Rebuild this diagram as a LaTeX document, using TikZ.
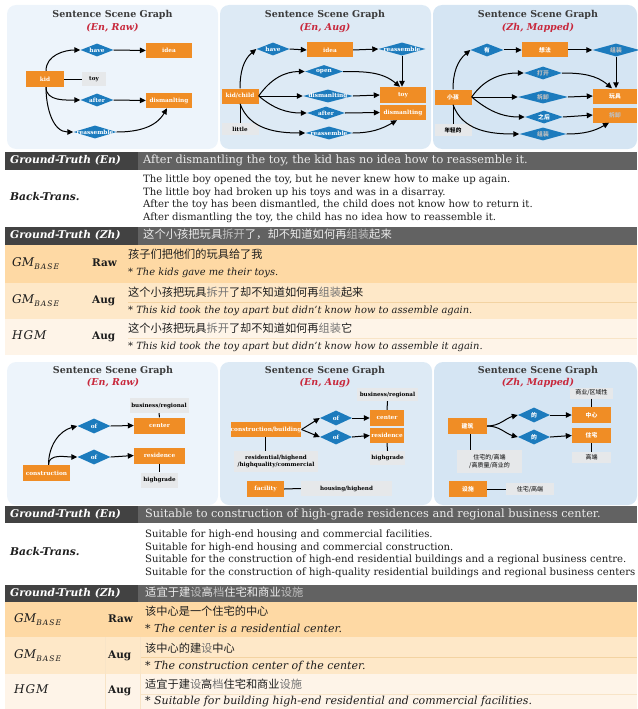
\documentclass[tikz,border=0pt]{standalone}
\usepackage{fontspec}
\setmainfont{DejaVu Serif}
\newfontfamily\cjk{Noto Sans CJK SC}
\usetikzlibrary{shapes.geometric,arrows.meta}
\definecolor{orng}{HTML}{F08D25}
\definecolor{dblue}{HTML}{1C7BBD}
\definecolor{gbx}{HTML}{E6E8EA}
\definecolor{pA}{HTML}{EDF4FB}
\definecolor{pB}{HTML}{DDEAF5}
\definecolor{pC}{HTML}{D5E5F3}
\definecolor{ttl}{HTML}{3C3C3C}
\definecolor{subred}{HTML}{C8283C}
\definecolor{bandL}{HTML}{424242}
\definecolor{bandR}{HTML}{626262}
\definecolor{rowA}{HTML}{FED9A4}
\definecolor{rowB}{HTML}{FEE8C8}
\definecolor{rowC}{HTML}{FEF4E8}
\definecolor{sepl}{HTML}{F3D3A2}
\definecolor{bodyt}{HTML}{1E1E1E}
\definecolor{lighttxt}{HTML}{ECECEC}
\newcommand\mkzw[1]{\makebox[0pt]{#1}}
\newcommand\gmbase{\textit{GM}\raisebox{-2.4pt}{\fontsize{7.6}{8}\selectfont\itshape B\kern1pt A\kern1pt S\kern1pt E}}
\newcommand\hgmlbl{\textit{H\kern1pt G\kern1pt M}}
\newcommand\ltc[1]{\textcolor{black!55}{#1}}
\newcommand\ltw[1]{\textcolor{white!75!black}{#1}}
\begin{document}
\begin{tikzpicture}[x=1pt,y=-1pt,
  obox/.style={fill=orng,text=white,font=\fontsize{5.8}{7}\selectfont\bfseries,inner sep=0pt,minimum height=15pt},
  gbox/.style={fill=gbx,text=black,font=\fontsize{5.6}{7}\selectfont\bfseries,inner sep=0pt,minimum height=14pt},
  dia/.style={diamond,fill=dblue,text=white,font=\fontsize{5.8}{7}\selectfont\bfseries,inner sep=0pt,minimum height=13pt},
  arr/.style={-{Triangle[length=6pt,width=5.5pt]},line width=1pt,black},
  lnk/.style={line width=1pt,black},
  panel/.style={rounded corners=9pt},
  ttlstyle/.style={font=\fontsize{9.5}{11}\selectfont\bfseries,text=ttl,inner sep=0pt},
  substyle/.style={font=\fontsize{9.5}{11}\selectfont\bfseries\itshape,text=subred,inner sep=0pt},
  tx/.style={anchor=west,inner sep=0pt,text height=0.72em,text depth=0.2em},
  lbl/.style={tx,font=\fontsize{10.7}{13}\selectfont\bfseries\itshape},
  bandtxt/.style={tx,text=lighttxt,font=\fontsize{11.3}{13}\selectfont},
  bt/.style={tx,text=bodyt,font=\fontsize{10.1}{12}\selectfont},
  zh/.style={tx,text=bodyt,font=\cjk\fontsize{11.2}{12}\selectfont},
  zhband/.style={tx,text=lighttxt,font=\cjk\fontsize{11.3}{13}\selectfont},
  en/.style={tx,text=bodyt,font=\fontsize{9.9}{11}\selectfont\itshape},
  enb/.style={tx,text=bodyt,font=\fontsize{11}{12}\selectfont\itshape},
  rk/.style={tx,text=bodyt,font=\fontsize{10.5}{12}\selectfont\bfseries},
  ml/.style={tx,text=bodyt,font=\fontsize{12}{13}\selectfont},
]
\useasboundingbox (0,0) rectangle (637,709);

%% ================= TOP PANELS =================
\fill[pA,panel] (7,5) rectangle (218,149);
\fill[pB,panel] (220,5) rectangle (431,149);
\fill[pC,panel] (433,5) rectangle (637,149);

\node[ttlstyle] (t1) at (112.5,15) {Sentence Scene Graph};
\node[substyle] (s1) at (112.5,27.5) {(En, Raw)};
\node[ttlstyle] (t2) at (325,15) {Sentence Scene Graph};
\node[substyle] (s2) at (325,27.5) {(En, Aug)};
\node[ttlstyle] (t3) at (538,15) {Sentence Scene Graph};
\node[substyle] (s3) at (538,27.5) {(Zh, Mapped)};

% panel 1
\node[dia,minimum width=33pt] (p1have) at (97,50) {\mkzw{have}};
\node[obox,minimum width=46pt] (p1idea) at (169,50.5) {idea};
\node[obox,minimum width=38pt,minimum height=16pt] (p1kid) at (45,79) {kid};
\node[gbox,minimum width=24pt] (p1toy) at (94,79) {toy};
\node[dia,minimum width=33pt] (p1after) at (97,100) {\mkzw{after}};
\node[obox,minimum width=46pt] (p1dis) at (169,100.5) {dismanlting};
\node[dia,minimum width=43pt] (p1re) at (95,132) {\mkzw{reassemble}};
\draw[arr] ([xshift=1pt]p1kid.north) to[out=90,in=180] (p1have.west);
\draw[lnk] (p1kid.east) -- (p1toy.west);
\draw[arr] ([xshift=1pt]p1kid.south) to[out=-90,in=180] (p1after.west);
\draw[arr] ([xshift=1pt]p1kid.south) to[out=-90,in=180] (p1re.west);
\draw[arr] (p1have.east) -- (p1idea.west);
\draw[arr] (p1after.east) -- (p1dis.west);
\draw[arr] (p1re.east) to[out=0,in=-120] ([xshift=-2pt]p1dis.south);

% panel 2
\node[dia,minimum width=33pt] (p2have) at (273,49) {\mkzw{have}};
\node[obox,minimum width=46pt] (p2idea) at (330,50) {idea};
\node[dia,minimum width=47pt] (p2re1) at (402,49) {\mkzw{reassemble}};
\node[dia,minimum width=38pt] (p2open) at (324,71.5) {\mkzw{open}};
\node[obox,minimum width=37pt] (p2kid) at (240,96) {kid/child};
\node[dia,minimum width=50pt] (p2dis) at (328,96) {\mkzw{dismanlting}};
\node[obox,minimum width=46pt,minimum height=16pt] (p2toy) at (403,95) {toy};
\node[dia,minimum width=38pt] (p2after) at (326,113) {\mkzw{after}};
\node[obox,minimum width=46pt] (p2disb) at (403,112.5) {dismanlting};
\node[gbox,minimum width=37pt,minimum height=12pt] (p2little) at (240,129) {little};
\node[dia,minimum width=47pt] (p2re2) at (329,133) {\mkzw{reassemble}};
\draw[arr] (p2kid.north) to[out=90,in=-140] (p2have.west);
\draw[arr] (p2have.east) -- (p2idea.west);
\draw[arr] (p2idea.east) -- (p2re1.west);
\draw[arr] (p2re1.south) -- (p2re1.south |- p2toy.north);
\draw[arr] (p2kid.east) to[out=55,in=180] (p2open.west);
\draw[arr] (p2open.east) to[out=0,in=140] ([xshift=-3pt]p2toy.north);
\draw[arr] (p2kid.east) -- (p2dis.west);
\draw[arr] (p2dis.east) -- (p2toy.west);
\draw[arr] (p2kid.east) to[out=-40,in=180] (p2after.west);
\draw[arr] (p2after.east) -- (p2disb.west);
\draw[arr] (p2kid.south) to[out=-70,in=180] (p2re2.west);
\draw[arr] (p2re2.east) to[out=0,in=-150] ([xshift=-6pt]p2disb.south);
\draw[lnk] (p2little.north) -- (p2kid.south);

% panel 3
\node[dia,minimum width=33pt] (p3you) at (487,50) {\mkzw{\cjk 有}};
\node[obox,minimum width=46pt] (p3idea) at (545,50) {\cjk 想法};
\node[dia,minimum width=47pt] (p3zz1) at (616,50) {\mkzw{\cjk\ltw{组装}}};
\node[dia,minimum width=38pt] (p3open) at (543,73) {\mkzw{\cjk\ltw{打开}}};
\node[obox,minimum width=37pt] (p3kid) at (453,97) {\cjk 小孩};
\node[dia,minimum width=50pt] (p3cx) at (543,97) {\mkzw{\cjk\ltw{拆卸}}};
\node[obox,minimum width=44pt] (p3toy) at (615,96) {\cjk 玩具};
\node[dia,minimum width=38pt] (p3after) at (544,117) {\mkzw{\cjk 之后}};
\node[obox,minimum width=44pt] (p3cxb) at (615,115) {\cjk\ltw{拆卸}};
\node[gbox,minimum width=37pt,minimum height=12pt] (p3young) at (453,130) {\cjk 年轻的};
\node[dia,minimum width=47pt] (p3zz2) at (543,134) {\mkzw{\cjk\ltw{组装}}};
\draw[arr] (p3kid.north) to[out=90,in=-140] (p3you.west);
\draw[arr] (p3you.east) -- (p3idea.west);
\draw[arr] (p3idea.east) -- (p3zz1.west);
\draw[arr] (p3zz1.south) -- (p3zz1.south |- p3toy.north);
\draw[arr] (p3kid.east) to[out=55,in=180] (p3open.west);
\draw[arr] (p3open.east) to[out=0,in=140] ([xshift=-3pt]p3toy.north);
\draw[arr] (p3kid.east) -- (p3cx.west);
\draw[arr] (p3cx.east) -- (p3toy.west);
\draw[arr] (p3kid.east) to[out=-40,in=180] (p3after.west);
\draw[arr] (p3after.east) -- (p3cxb.west);
\draw[arr] (p3kid.south) to[out=-70,in=180] (p3zz2.west);
\draw[arr] (p3zz2.east) to[out=0,in=-150] ([xshift=-6pt]p3cxb.south);
\draw[lnk] (p3young.north) -- (p3kid.south);

%% ================= TABLE 1 =================
\fill[bandL] (5,152) rectangle (138,170);
\fill[bandR] (138,152) rectangle (637,170);
\node[lbl,text=white] (a1) at (10,161) {Ground-Truth (En)};
\node[bandtxt] (a2) at (143,161) {After dismantling the toy, the kid has no idea how to reassemble it.};
\fill[white] (5,170) rectangle (637,227);
\node[lbl,text=bodyt] (a3) at (10,198) {Back-Trans.};
\node[bt] (a4) at (143,180) {The little boy opened the toy, but he never knew how to make up again.};
\node[bt] (a5) at (143,192.5) {The little boy had broken up his toys and was in a disarray.};
\node[bt] (a6) at (143,205) {After the toy has been dismantled, the child does not know how to return it.};
\node[bt] (a7) at (143,217.5) {After dismantling the toy, the child has no idea how to reassemble it.};
\fill[bandL] (5,227) rectangle (138,245);
\fill[bandR] (138,227) rectangle (637,245);
\node[lbl,text=white] (a8) at (10,236) {Ground-Truth (Zh)};
\node[zhband] (a9) at (143,236) {这个小孩把玩具\ltw{拆开}了，却不知道如何再\ltw{组装}起来};
\fill[rowA] (5,245) rectangle (637,283);
\fill[rowB] (5,283) rectangle (637,319);
\fill[rowC] (5,319) rectangle (637,355);
\draw[sepl,line width=0.6pt] (128,302) -- (637,302);
\draw[sepl!60,line width=0.6pt] (128,338) -- (637,338);
\node[ml] (b1) at (12,264) {\gmbase};
\node[rk] (b2) at (92,264) {Raw};
\node[zh] (b3) at (128,256) {孩子们把他们的玩具给了我};
\node[en] (b4) at (128,272.5) {* The kids gave me their toys.};
\node[ml] (b5) at (12,301) {\gmbase};
\node[rk] (b6) at (92,301) {Aug};
\node[zh] (b7) at (128,293.5) {这个小孩把玩具\ltc{拆开}了却不知道如何再\ltc{组装}起来};
\node[en] (b8) at (128,311) {* This kid took the toy apart but didn't know how to assemble again.};
\node[ml] (b9) at (12,337) {\hgmlbl};
\node[rk] (b10) at (92,337) {Aug};
\node[zh] (b11) at (128,330) {这个小孩把玩具\ltc{拆开}了却不知道如何再\ltc{组装}它};
\node[en] (b12) at (128,347) {* This kid took the toy apart but didn't know how to assemble it again.};

%% ================= BOTTOM PANELS =================
\fill[pA,panel] (7,362) rectangle (218,505);
\fill[pB,panel] (220,362) rectangle (432,505);
\fill[pC,panel] (434,362) rectangle (637,505);
\node[ttlstyle] (t4) at (113,370.5) {Sentence Scene Graph};
\node[substyle] (s4) at (113,383) {(En, Raw)};
\node[ttlstyle] (t5) at (325,370.5) {Sentence Scene Graph};
\node[substyle] (s5) at (325,383) {(En, Aug)};
\node[ttlstyle] (t6) at (538,370.5) {Sentence Scene Graph};
\node[substyle] (s6) at (538,383) {(Zh, Mapped)};

% bottom panel 1
\node[gbox,minimum width=59pt,minimum height=15pt] (q1bus) at (159,405.5) {business/regional};
\node[obox,minimum width=51pt,minimum height=16pt] (q1cen) at (159.5,425.5) {center};
\node[dia,minimum width=33pt,minimum height=15pt] (q1of1) at (94,426) {\mkzw{of}};
\node[dia,minimum width=33pt,minimum height=15pt] (q1of2) at (94,457) {\mkzw{of}};
\node[obox,minimum width=51pt,minimum height=16pt] (q1res) at (159.5,455.5) {residence};
\node[gbox,minimum width=37pt,minimum height=15pt] (q1hg) at (159.5,480) {highgrade};
\node[obox,minimum width=47pt,minimum height=16pt] (q1con) at (46.5,473) {construction};
\draw[arr] ([xshift=2pt]q1con.north) to[out=90,in=195] (q1of1.west);
\draw[arr] ([xshift=2pt]q1con.north) to[out=90,in=180] (q1of2.west);
\draw[arr] (q1of1.east) -- (q1cen.west);
\draw[arr] (q1of2.east) -- (q1res.west);
\draw[lnk] (q1bus.south) -- (q1cen.north);
\draw[lnk] (q1res.south) -- (q1hg.north);

% bottom panel 2
\node[gbox,minimum width=61pt,minimum height=13pt] (q2bus) at (387.5,394.5) {business/regional};
\node[obox,minimum width=34pt,minimum height=16pt] (q2cen) at (387,418) {center};
\node[obox,minimum width=34pt,minimum height=15pt] (q2res) at (387,435.5) {residence};
\node[gbox,minimum width=35pt,minimum height=14pt] (q2hg) at (387.5,458) {highgrade};
\node[dia,minimum width=32pt,minimum height=15pt] (q2of1) at (336,418) {\mkzw{of}};
\node[dia,minimum width=32pt,minimum height=15pt] (q2of2) at (336,437) {\mkzw{of}};
\node[obox,minimum width=70pt,minimum height=15pt] (q2cb) at (266,429.5) {construction/building};
\node[gbox,minimum width=84pt,minimum height=21pt,align=center,font=\fontsize{5.6}{6.6}\selectfont\bfseries] (q2rh) at (276,461.5) {residential/highend\\/highquality/commercial};
\node[obox,minimum width=37pt,minimum height=16pt] (q2fac) at (265.5,489) {facility};
\node[gbox,minimum width=91pt,minimum height=15pt] (q2hh) at (346.5,488.5) {housing/highend};
\draw[arr] (q2cb.east) -- (q2of1.west);
\draw[arr] (q2cb.east) -- (q2of2.west);
\draw[arr] (q2of1.east) -- (q2cen.west);
\draw[arr] (q2of2.east) -- (q2res.west);
\draw[lnk] (q2bus.south) -- (q2cen.north);
\draw[lnk] (q2res.south) -- (q2hg.north);
\draw[lnk] ([xshift=-1pt]q2cb.south) -- ([xshift=-1pt]q2cb.south |- q2rh.north);
\draw[lnk] (q2fac.east) -- (q2hh.west);

% bottom panel 3
\node[gbox,minimum width=43pt,minimum height=11pt,font=\cjk\fontsize{6}{7}\selectfont] (q3bus) at (591.5,393) {商业/区域性};
\node[obox,minimum width=39pt,minimum height=16pt] (q3cen) at (591.5,415) {\cjk 中心};
\node[obox,minimum width=39pt,minimum height=15pt] (q3res) at (591.5,435.5) {\cjk 住宅};
\node[gbox,minimum width=39pt,minimum height=11pt,font=\cjk\fontsize{6}{7}\selectfont] (q3hg) at (591.5,457.5) {高端};
\node[dia,minimum width=32pt,minimum height=15pt] (q3de1) at (534,415) {\mkzw{\cjk 的}};
\node[dia,minimum width=32pt,minimum height=15pt] (q3de2) at (534,437) {\mkzw{\cjk 的}};
\node[obox,minimum width=39pt,minimum height=16pt] (q3jz) at (467.5,426) {\cjk 建筑};
\node[gbox,minimum width=65pt,minimum height=23pt,align=center,font=\cjk\fontsize{6}{8}\selectfont] (q3zz) at (489.5,461.5) {住宅的/高端\\/高质量/商业的};
\node[obox,minimum width=38pt,minimum height=16pt] (q3ss) at (468,489) {\cjk 设施};
\node[gbox,minimum width=48pt,minimum height=12pt,font=\cjk\fontsize{6}{7}\selectfont] (q3zg) at (530,489) {住宅/高端};
\draw[arr] (q3jz.east) to[out=0,in=195] (q3de1.west);
\draw[arr] (q3jz.east) to[out=0,in=165] (q3de2.west);
\draw[arr] (q3de1.east) -- (q3cen.west);
\draw[arr] (q3de2.east) -- (q3res.west);
\draw[lnk] (q3bus.south) -- (q3cen.north);
\draw[lnk] (q3res.south) -- (q3hg.north);
\draw[lnk] ([xshift=3pt]q3jz.south) -- ([xshift=3pt]q3jz.south |- q3zz.north);
\draw[lnk] (q3ss.east) -- (q3zg.west);

%% ================= TABLE 2 =================
\fill[bandL] (5,506) rectangle (138,523);
\fill[bandR] (138,506) rectangle (637,523);
\node[lbl,text=white] (c1) at (10,514.5) {Ground-Truth (En)};
\node[bandtxt] (c2) at (145,514.5) {Suitable to construction of high-grade residences and regional business center.};
\fill[white] (5,523) rectangle (637,585);
\node[lbl,text=bodyt] (c3) at (10,553) {Back-Trans.};
\node[bt] (c4) at (145,535) {Suitable for high-end housing and commercial facilities.};
\node[bt] (c5) at (145,547.5) {Suitable for high-end housing and commercial construction.};
\node[bt] (c6) at (145,560) {Suitable for the construction of high-end residential buildings and a regional business centre.};
\node[bt] (c7) at (145,572.5) {Suitable for the construction of high-quality residential buildings and regional business centers};
\fill[bandL] (5,585) rectangle (138,602);
\fill[bandR] (138,585) rectangle (637,602);
\node[lbl,text=white] (c8) at (10,593.5) {Ground-Truth (Zh)};
\node[zhband] (c9) at (145,593.5) {适宜于建\ltw{设}高\ltw{档}住宅和商业\ltw{设施}};
\fill[rowA] (5,602) rectangle (637,637);
\fill[rowB] (5,637) rectangle (637,674);
\fill[rowC] (5,674) rectangle (637,709);
\draw[sepl,line width=0.6pt] (140,657) -- (637,657);
\draw[sepl!60,line width=0.6pt] (140,694) -- (637,694);
\draw[sepl!60,line width=0.6pt] (105,637) -- (105,709);
\draw[sepl!60,line width=0.6pt] (140,637) -- (140,709);
\node[ml] (d1) at (14,620) {\gmbase};
\node[rk] (d2) at (108,620) {Raw};
\node[zh] (d3) at (145,613) {该中心是一个住宅的中心};
\node[enb] (d4) at (145,630) {* The center is a residential center.};
\node[ml] (d5) at (14,656) {\gmbase};
\node[rk] (d6) at (108,656) {Aug};
\node[zh] (d7) at (145,649.5) {该中心的建\ltc{设}中心};
\node[enb] (d8) at (145,667) {* The construction center of the center.};
\node[ml] (d9) at (14,691) {\hgmlbl};
\node[rk] (d10) at (108,691) {Aug};
\node[zh] (d11) at (145,685.5) {适宜于建\ltc{设}高\ltc{档}住宅和商业\ltc{设施}};
\node[enb] (d12) at (145,702) {* Suitable for building high-end residential and commercial facilities.};
\end{tikzpicture}
\end{document}
